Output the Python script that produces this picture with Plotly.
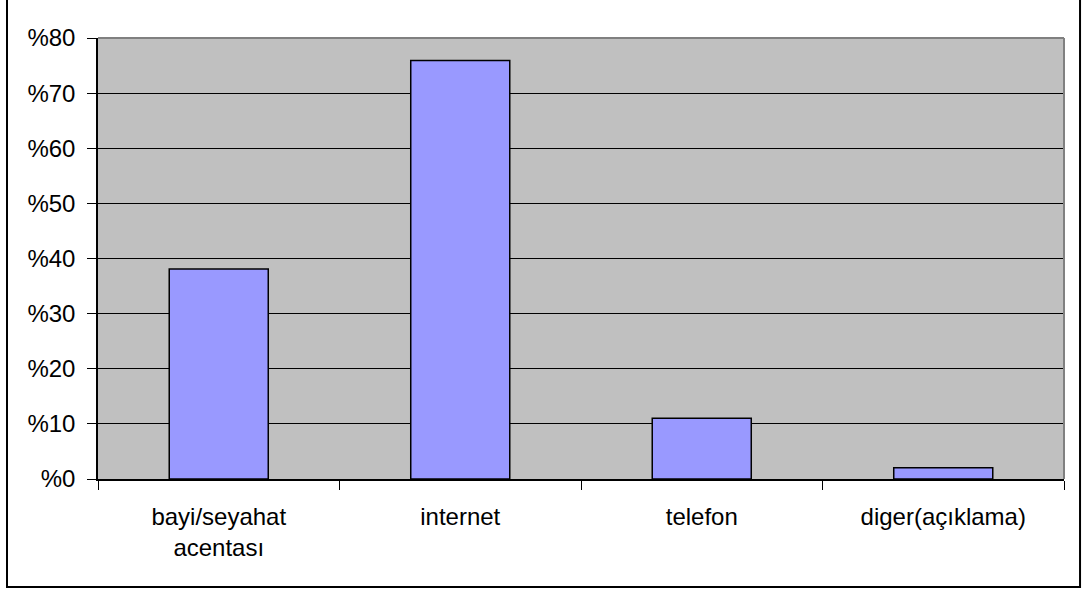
import plotly.graph_objects as go

categories = ["bayi/seyahat<br>acentası", "internet", "telefon", "diger(açıklama)"]
values = [38.1, 75.9, 11.0, 2.05]
y_ticks = [0, 10, 20, 30, 40, 50, 60, 70, 80]
y_tick_labels = ["%" + str(v) for v in y_ticks]

FONT = "Liberation Sans, Arial, sans-serif"
FS = 24

fig = go.Figure(go.Bar(
    x=categories,
    y=values,
    marker=dict(color="#9999FF", line=dict(color="black", width=1.5)),
    width=0.41,
))

fig.update_layout(
    width=1084, height=591,
    margin=dict(l=98, r=20, t=38, b=112),
    paper_bgcolor="white",
    plot_bgcolor="#C0C0C0",
    showlegend=False,
    font=dict(family=FONT, size=FS, color="black"),
)

fig.update_xaxes(
    type="category",
    tickson="boundaries",
    ticks="outside", ticklen=9, tickwidth=1, tickcolor="black",
    showline=True, linecolor="black", linewidth=1.5,
    showgrid=False, zeroline=False,
    ticklabelstandoff=15,
    tickfont=dict(family=FONT, size=FS, color="black"),
)
fig.update_yaxes(
    range=[0, 80],
    tickvals=y_ticks, ticktext=y_tick_labels,
    ticks="outside", ticklen=9, tickwidth=1, tickcolor="black",
    showline=True, linecolor="black", linewidth=1.5,
    showgrid=True, gridcolor="black", gridwidth=1,
    zeroline=False,
    ticklabelstandoff=7,
    tickfont=dict(family=FONT, size=FS, color="black"),
)

# gray plot-area border on top and right
fig.add_shape(type="line", xref="paper", yref="paper", x0=0, x1=1, y0=1, y1=1,
              line=dict(color="#808080", width=2), layer="above")
fig.add_shape(type="line", xref="paper", yref="paper", x0=1, x1=1, y0=0, y1=1,
              line=dict(color="#808080", width=2), layer="above")
# outer chart border
fig.add_shape(type="rect", xref="paper", yref="paper",
              x0=-0.0942, x1=1.0166, y0=-0.2449, y1=1.12,
              line=dict(color="black", width=2), fillcolor="rgba(0,0,0,0)", layer="above")

fig.write_html("out.html")
